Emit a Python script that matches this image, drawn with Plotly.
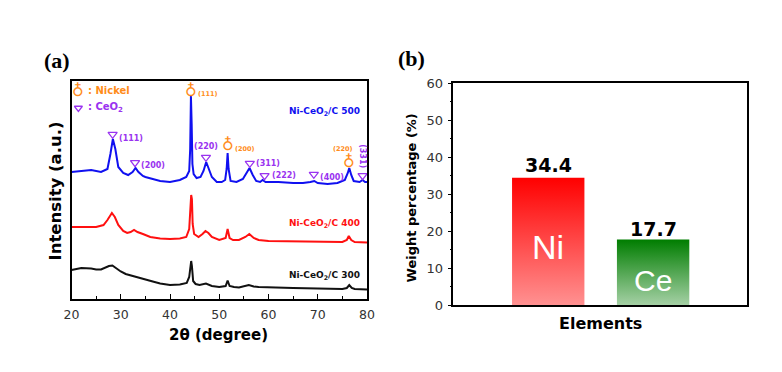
import plotly.graph_objects as go

# ---------------- data (a): XRD patterns ----------------
x500 = [20, 22, 24, 26, 27.3, 27.9, 28.4, 28.9, 29.5, 30.5, 31.5, 32.4, 33.0, 33.6, 34.5, 35, 36.5, 38, 40, 42,
        43.3, 43.9, 44.1, 44.25, 44.4, 44.55, 44.8, 45.4, 46.2, 46.8, 47.35, 47.9, 48.5, 49.5, 50.5, 51.2, 51.5,
        51.7, 51.9, 52.3, 53.5, 54.8, 55.6, 56.15, 56.8, 57.5, 58.3, 58.8, 59.4, 60, 62, 65, 67, 68.5, 69.3, 70,
        72, 74, 75.5, 76.1, 76.4, 76.8, 77.3, 78.5, 79.1, 79.6, 80]
y500 = [127, 128, 129, 127, 130, 145, 160, 150, 132, 126, 124, 127, 131, 127, 123, 122, 120, 118, 117, 119,
        122, 128, 150, 203, 175, 135, 125, 121, 122, 128, 137, 130, 122, 117, 117, 119, 130,
        146, 130, 118, 117, 120, 126, 131, 124, 118, 117, 119, 117, 117, 117, 116, 116, 117, 118, 116,
        115, 116, 119, 126, 131, 124, 118, 117, 119, 117, 117]

x400 = [20, 22, 25, 26.5, 27.3, 28.2, 28.8, 29.5, 30.5, 31.3, 32.0, 32.7, 33.4, 34.5, 36, 38, 40, 42, 43.3,
        43.9, 44.15, 44.3, 44.45, 44.6, 44.9, 45.8, 46.6, 47.2, 47.8, 48.5, 50, 51.3, 51.7, 52.1, 52.8, 54,
        55.3, 56.1, 57, 58, 60, 65, 70, 75, 75.9, 76.3, 76.8, 77.5, 80]
y400 = [72, 72, 72, 74, 79, 86, 82, 74, 68, 66, 67, 69, 67, 65, 62, 60.5, 60, 60.5, 62,
        70, 98, 104, 100, 75, 65, 62, 65, 68, 66, 62, 59, 61, 70, 61, 59, 59,
        62, 65, 61, 59, 58, 57.5, 57.5, 57, 59, 63, 59, 57, 56.5]

x300 = [20, 21, 22, 24, 25, 26, 26.8, 27.6, 28.3, 29, 30, 31, 32, 33, 34, 35, 36.5, 38, 40, 42, 43.4, 43.9,
        44.15, 44.3, 44.45, 44.7, 45.2, 46, 47.3, 48.5, 50, 51.3, 51.7, 52.1, 53, 54, 56, 57, 58, 60, 65, 70,
        75, 75.9, 76.4, 76.9, 77.5, 80]
y300 = [29, 30, 31, 30.5, 29.5, 29.5, 31, 33, 33.5, 31, 27.5, 25, 23.5, 22, 20.5, 19.5, 17.5, 15.5, 14, 14.5, 16, 22,
        35, 38, 33, 18, 15, 14, 15.5, 13, 12, 13, 18.5, 13, 12, 11.5, 14, 12.5, 12, 11.5, 11, 10.5,
        10, 11, 14, 11, 10, 9.5]

ceo2_pos = [28.35, 32.9, 47.3, 56.2, 59.2, 69.2, 79.1]
ceo2_mark_y = [164.7, 136.3, 141.7, 135.7, 123.3, 124.7, 123.3]
ceo2_hkl = ["(111)", "(200)", "(220)", "(311)", "(222)", "(400)", "(331)"]

ni_pos = [44.25, 51.8, 76.4]
ni_mark_y = [209, 154.7, 138]
ni_hkl = ["(111)", "(200)", "(220)"]

sample_names = ["Ni-CeO<sub>2</sub>/C 500", "Ni-CeO<sub>2</sub>/C 400", "Ni-CeO<sub>2</sub>/C 300"]

# ---------------- data (b): weight percentage ----------------
elements = ["Ni", "Ce"]
weights = [34.4, 17.7]

# ---------------- styling ----------------
FONT = "DejaVu Sans"
ARIAL = "Liberation Sans"
BLUE = "#1010F0"
RED = "#FF1010"
ORANGE = "#FF8C1A"
PURPLE = "#9A33F0"
# the page body has an 8px margin: the figure is drawn inside it
OFF = 8
W, H = 782 - 2 * OFF, 372 - 2 * OFF


def px(xp):
    return (xp - OFF) / W


def py(yp):
    return 1 - (yp - OFF) / H


fig = go.Figure()

for xs, ys, col in [(x500, y500, BLUE), (x400, y400, RED), (x300, y300, "#111111")]:
    fig.add_trace(go.Scatter(x=xs, y=ys, mode="lines", line=dict(color=col, width=2),
                             xaxis="x", yaxis="y", showlegend=False, hoverinfo="skip"))

# peak markers
fig.add_trace(go.Scatter(x=ceo2_pos, y=ceo2_mark_y, mode="markers",
                         marker=dict(symbol="triangle-down-open", size=8, color=PURPLE, line=dict(width=1.3)),
                         xaxis="x", yaxis="y", showlegend=False, hoverinfo="skip"))

NI_SYM = dict(family="DejaVu Sans", size=16, color=ORANGE)

annotations = []
for xp, yp in zip(ni_pos, ni_mark_y):
    annotations.append(dict(x=xp, y=yp, xref="x", yref="y", text="♁", showarrow=False, font=NI_SYM))

# hkl labels for CeO2
ceo2_label_cfg = [  # (dx, dy, xanchor)
    (0.8, -4, "left"), (0.9, -3, "left"), (0.0, 11, "center"), (0.9, 0, "left"),
    (1.2, 0, "left"), (0.9, -3, "left"), (0.0, 20, "center")]
for xp, yp, lab, (dx, dy, xa) in zip(ceo2_pos, ceo2_mark_y, ceo2_hkl, ceo2_label_cfg):
    a = dict(x=xp + dx, y=yp + dy, xref="x", yref="y", text="<b>%s</b>" % lab, showarrow=False,
             xanchor=xa, font=dict(family=FONT, size=8, color=PURPLE))
    if lab == "(331)":
        a["textangle"] = 90
    annotations.append(a)

ni_label_cfg = [(1.1, -4, "left"), (0.9, -5, "left"), (-1.2, 12, "center")]
for xp, yp, lab, (dx, dy, xa) in zip(ni_pos, ni_mark_y, ni_hkl, ni_label_cfg):
    annotations.append(dict(x=xp + dx, y=yp + dy, xref="x", yref="y", text="<b>%s</b>" % lab,
                            showarrow=False, xanchor=xa, font=dict(family=FONT, size=6.5, color=ORANGE)))

# legend text in panel (a)
annotations.append(dict(x=21.4, y=209, xref="x", yref="y", text="♁", showarrow=False, font=NI_SYM))
annotations.append(dict(x=23.0, y=209, xref="x", yref="y", text="<b>: Nickel</b>", showarrow=False,
                        xanchor="left", font=dict(family=FONT, size=10, color=ORANGE)))
annotations.append(dict(x=23.0, y=192, xref="x", yref="y", text="<b>: CeO<sub>2</sub></b>", showarrow=False,
                        xanchor="left", font=dict(family=FONT, size=10, color=PURPLE)))
fig.add_trace(go.Scatter(x=[21.4], y=[191], mode="markers",
                         marker=dict(symbol="triangle-down-open", size=7, color=PURPLE, line=dict(width=1.3)),
                         xaxis="x", yaxis="y", showlegend=False, hoverinfo="skip"))

# sample labels
for name, yp, col in zip(sample_names, [188, 76, 24], [BLUE, RED, "#111111"]):
    annotations.append(dict(x=79.0, y=yp, xref="x", yref="y", text="<b>%s</b>" % name, showarrow=False,
                            xanchor="right", font=dict(family=FONT, size=9, color=col)))

# ---------------- panel (b): gradient bars ----------------
bar_w = 0.69
grads = [["rgb(255,145,145)", "rgb(255,0,0)"], ["rgb(165,208,165)", "rgb(0,125,0)"]]
for i, (el, v) in enumerate(zip(elements, weights)):
    xs = [i - bar_w / 2, i + bar_w / 2, i + bar_w / 2, i - bar_w / 2, i - bar_w / 2]
    ys = [0, 0, v, v, 0]
    fig.add_trace(go.Scatter(x=xs, y=ys, mode="lines", fill="toself", line=dict(width=0),
                             fillgradient=dict(type="vertical",
                                               colorscale=[[0, grads[i][0]], [1, grads[i][1]]]),
                             xaxis="x2", yaxis="y2", showlegend=False, hoverinfo="skip"))
    annotations.append(dict(x=i, y=v, xref="x2", yref="y2", text="<b>%.1f</b>" % v, showarrow=False,
                            yanchor="middle", yshift=13 if i == 0 else 11,
                            font=dict(family=FONT, size=19, color="black")))

annotations.append(dict(x=0, y=15.8, xref="x2", yref="y2", text=elements[0], showarrow=False,
                        font=dict(family=ARIAL, size=34, color="white")))
annotations.append(dict(x=1, y=6.6, xref="x2", yref="y2", text=elements[1], showarrow=False,
                        font=dict(family=ARIAL, size=30, color="white")))

# axis titles and panel letters (paper coordinates)
annotations += [
    dict(x=px(55), y=py(191.5), text="<b>Intensity (a.u.)</b>", textangle=-90,
         font=dict(family=FONT, size=16.5, color="black")),
    dict(x=px(218), y=py(335), text="<b>2θ (degree)</b>", font=dict(family=FONT, size=15, color="black")),
    dict(x=px(410.5), y=py(198), text="<b>Weight percentage (%)</b>", textangle=-90,
         font=dict(family=FONT, size=13, color="black")),
    dict(x=px(600), y=py(323), text="<b>Elements</b>", font=dict(family=FONT, size=16, color="black")),
    dict(x=px(57), y=py(60), text="<b>(a)</b>", font=dict(family="Liberation Serif", size=22, color="black")),
    dict(x=px(411), y=py(59), text="<b>(b)</b>", font=dict(family="Liberation Serif", size=22, color="black")),
]
for a in annotations[-6:]:
    a.update(xref="paper", yref="paper", showarrow=False, xanchor="center", yanchor="middle")

axis_common = dict(showline=True, linecolor="black", linewidth=1.5, mirror=True, showgrid=False,
                   zeroline=False, automargin=False)

fig.update_layout(
    width=W, height=H, margin=dict(l=0, r=0, t=0, b=0),
    paper_bgcolor="white", plot_bgcolor="white",
    xaxis=dict(domain=[px(71.5), px(367)], range=[20, 80], dtick=10, ticks="inside", ticklen=5,
               tickcolor="black", tickwidth=1.2, ticklabelstandoff=3,
               tickfont=dict(family=FONT, size=12.5, color="#333333"),
               minor=dict(dtick=5, ticks="inside", ticklen=3, tickcolor="black"),
               anchor="y", **axis_common),
    yaxis=dict(domain=[py(299), py(80.7)], range=[0, 218.3], showticklabels=False, ticks="",
               anchor="x", **axis_common),
    xaxis2=dict(domain=[px(453.3), px(747)], range=[-0.905, 1.895], showticklabels=False, ticks="",
                anchor="y2", **axis_common),
    yaxis2=dict(domain=[py(305), py(83)], range=[0, 60], dtick=10, ticks="outside", ticklen=4,
                tickcolor="black", tickwidth=1.2, ticklabelstandoff=2,
                tickfont=dict(family=FONT, size=13, color="#333333"),
                minor=dict(dtick=5, ticks="outside", ticklen=2, tickcolor="black"),
                anchor="x2", **axis_common),
    annotations=annotations,
)

fig.write_html("out.html")
